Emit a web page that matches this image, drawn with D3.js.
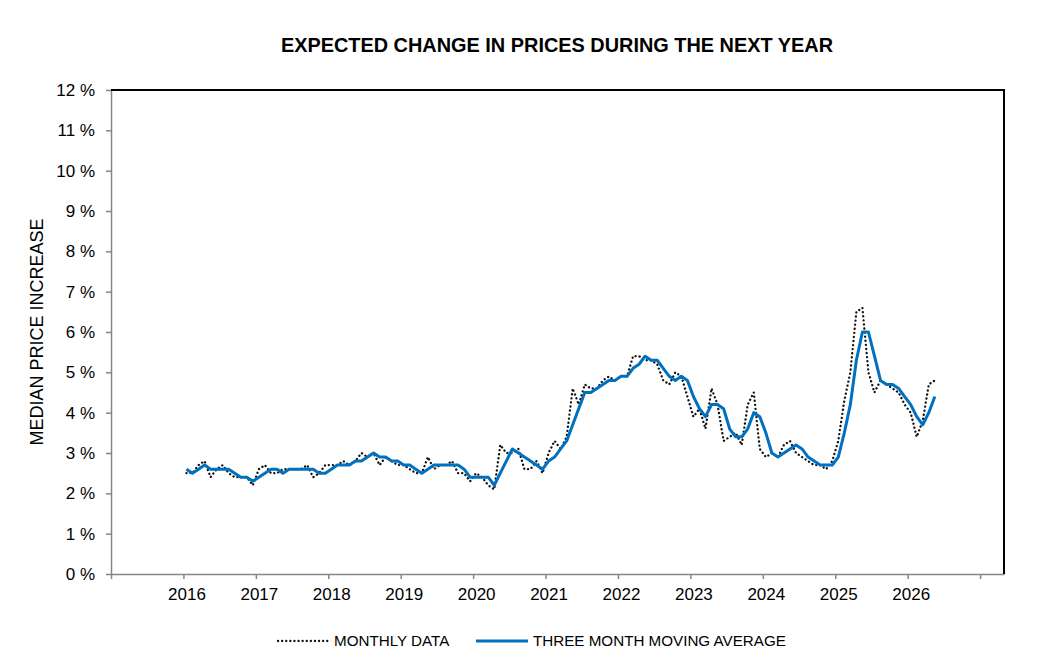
<!DOCTYPE html>
<html>
<head>
<meta charset="utf-8">
<script src="https://cdn.jsdelivr.net/npm/d3@7/dist/d3.min.js"></script>
<style>
  body { margin: 0; background: #fff; }
  svg { display: block; font-family: "Liberation Sans", Arial, sans-serif; }
</style>
</head>
<body>
<svg id="chart" width="1050" height="664"></svg>
<script>
// monthly series starts Jan 2016
var firstYear = 2016;

var monthlyData = [
  2.5, 2.5, 2.7, 2.8, 2.4, 2.6, 2.7, 2.5, 2.4, 2.4, 2.4, 2.2, // 2016
  2.6, 2.7, 2.5, 2.5, 2.6, 2.6, 2.6, 2.6, 2.7, 2.4, 2.5, 2.7, // 2017
  2.7, 2.7, 2.8, 2.7, 2.8, 3.0, 2.9, 3.0, 2.7, 2.9, 2.8, 2.7, // 2018
  2.7, 2.6, 2.5, 2.5, 2.9, 2.6, 2.7, 2.7, 2.8, 2.5, 2.5, 2.3, // 2019
  2.5, 2.4, 2.2, 2.1, 3.2, 3.0, 3.0, 3.1, 2.6, 2.6, 2.8, 2.5, // 2020
  3.0, 3.3, 3.1, 3.4, 4.6, 4.2, 4.7, 4.6, 4.6, 4.8, 4.9, 4.8, // 2021
  4.9, 4.9, 5.4, 5.4, 5.3, 5.3, 5.2, 4.8, 4.7, 5.0, 4.9, 4.4, // 2022
  3.9, 4.1, 3.6, 4.6, 4.2, 3.3, 3.4, 3.5, 3.2, 4.2, 4.5, 3.1, // 2023
  2.9, 3.0, 2.9, 3.2, 3.3, 3.0, 2.9, 2.8, 2.7, 2.7, 2.6, 2.8, // 2024
  3.3, 4.3, 5.0, 6.5, 6.6, 5.0, 4.5, 4.8, 4.7, 4.6, 4.5, 4.2, // 2025
  4.0, 3.4, 3.8, 4.7, 4.8                                     // 2026
];

var movingAverage = [
  2.6, 2.5, 2.6, 2.7, 2.6, 2.6, 2.6, 2.6, 2.5, 2.4, 2.4, 2.3, // 2016
  2.4, 2.5, 2.6, 2.6, 2.5, 2.6, 2.6, 2.6, 2.6, 2.6, 2.5, 2.5, // 2017
  2.6, 2.7, 2.7, 2.7, 2.8, 2.8, 2.9, 3.0, 2.9, 2.9, 2.8, 2.8, // 2018
  2.7, 2.7, 2.6, 2.5, 2.6, 2.7, 2.7, 2.7, 2.7, 2.7, 2.6, 2.4, // 2019
  2.4, 2.4, 2.4, 2.2, 2.5, 2.8, 3.1, 3.0, 2.9, 2.8, 2.7, 2.6, // 2020
  2.8, 2.9, 3.1, 3.3, 3.7, 4.1, 4.5, 4.5, 4.6, 4.7, 4.8, 4.8, // 2021
  4.9, 4.9, 5.1, 5.2, 5.4, 5.3, 5.3, 5.1, 4.9, 4.8, 4.9, 4.8, // 2022
  4.4, 4.1, 3.9, 4.2, 4.2, 4.1, 3.6, 3.4, 3.4, 3.6, 4.0, 3.9, // 2023
  3.5, 3.0, 2.9, 3.0, 3.1, 3.2, 3.1, 2.9, 2.8, 2.7, 2.7, 2.7, // 2024
  2.9, 3.5, 4.2, 5.3, 6.0, 6.0, 5.4, 4.8, 4.7, 4.7, 4.6, 4.4, // 2025
  4.2, 3.9, 3.7, 4.0, 4.4                                     // 2026
];

var yearTicks = [2015, 2016, 2017, 2018, 2019, 2020, 2021, 2022, 2023, 2024, 2025, 2026, 2027];
var yearLabels = [2016, 2017, 2018, 2019, 2020, 2021, 2022, 2023, 2024, 2025, 2026];
var percentTicks = [0, 1, 2, 3, 4, 5, 6, 7, 8, 9, 10, 11, 12];

var svg = d3.select("#chart");
var plotLeft = 111, plotRight = 1004, plotTop = 90, plotBottom = 574;

var x = d3.scaleLinear().domain([2015, 2027.33]).range([plotLeft, plotRight]);
var y = d3.scaleLinear().domain([0, 12]).range([plotBottom, plotTop]);

var axisGrey = "#878787";

// title
svg.append("text")
  .attr("x", 557)
  .attr("y", 52)
  .attr("text-anchor", "middle")
  .style("font-weight", "bold")
  .style("font-size", "19.9px")
  .text("EXPECTED CHANGE IN PRICES DURING THE NEXT YEAR");

// y axis
var yAxis = svg.append("g")
  .attr("transform", "translate(" + plotLeft + ",0)")
  .call(d3.axisLeft(y)
    .tickValues(percentTicks)
    .tickFormat(function (d) { return d + " %"; })
    .tickSize(5)
    .tickSizeOuter(0)
    .tickPadding(11));

// x axis
var xAxis = svg.append("g")
  .attr("transform", "translate(0," + plotBottom + ")")
  .call(d3.axisBottom(x)
    .tickValues(yearTicks)
    .tickFormat(function (d) { return yearLabels.indexOf(d) >= 0 ? d : ""; })
    .tickSize(5)
    .tickSizeOuter(0)
    .tickPadding(9));

xAxis.selectAll("text").attr("dx", 3);

[yAxis, xAxis].forEach(function (g) {
  g.selectAll("path, line").attr("stroke", axisGrey).attr("stroke-width", 1.5);
  g.selectAll("text").attr("fill", "#000").style("font-size", "17px")
    .style("font-family", '"Liberation Sans", Arial, sans-serif');
});

// top and right border
svg.append("path")
  .attr("d", "M" + plotLeft + "," + plotTop + "H" + plotRight + "V" + plotBottom)
  .attr("fill", "none")
  .attr("stroke", "#000")
  .attr("stroke-width", 2);

// y axis title
svg.append("text")
  .attr("transform", "translate(43,332) rotate(-90)")
  .attr("text-anchor", "middle")
  .style("font-size", "18px")
  .text("MEDIAN PRICE INCREASE");

function monthX(d, i) {
  return x(firstYear + (i + 0.5) / 12);
}

var line = d3.line()
  .x(monthX)
  .y(function (d) { return y(d); });

// dotted monthly line: round dots
svg.append("path")
  .datum(monthlyData)
  .attr("d", line)
  .attr("fill", "none")
  .attr("stroke", "#111")
  .attr("stroke-width", 2.3)
  .attr("stroke-linecap", "round")
  .attr("stroke-dasharray", "0.1,4");

svg.append("path")
  .datum(movingAverage)
  .attr("d", line)
  .attr("fill", "none")
  .attr("stroke", "#0070C0")
  .attr("stroke-width", 3)
  .attr("stroke-linejoin", "round");

// legend
var legend = svg.append("g").style("font-size", "15.2px");

legend.append("line")
  .attr("x1", 278).attr("x2", 328).attr("y1", 641).attr("y2", 641)
  .attr("stroke", "#111").attr("stroke-width", 2.3)
  .attr("stroke-linecap", "round").attr("stroke-dasharray", "0.1,4");
legend.append("text").attr("x", 334).attr("y", 646).text("MONTHLY DATA");

legend.append("line")
  .attr("x1", 476).attr("x2", 528).attr("y1", 641).attr("y2", 641)
  .attr("stroke", "#0070C0").attr("stroke-width", 3);
legend.append("text").attr("x", 533).attr("y", 646).text("THREE MONTH MOVING AVERAGE");
</script>
</body>
</html>
